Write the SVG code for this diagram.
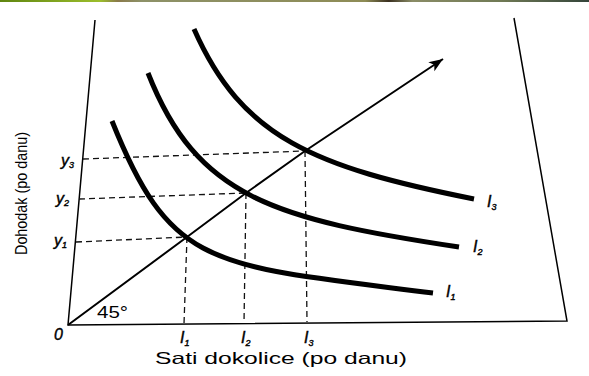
<svg xmlns="http://www.w3.org/2000/svg" width="589" height="376" viewBox="0 0 589 376">
<defs>
<linearGradient id="bar" x1="0" y1="0" x2="1" y2="0">
<stop offset="0" stop-color="#5f8510"/>
<stop offset="0.17" stop-color="#9cbe2c"/>
<stop offset="0.2" stop-color="#8a7a4a"/>
<stop offset="0.24" stop-color="#8d9168"/>
<stop offset="0.62" stop-color="#8e8c56"/>
<stop offset="0.66" stop-color="#3a3020"/>
<stop offset="0.7" stop-color="#8a8c66"/>
<stop offset="0.85" stop-color="#707a55"/>
<stop offset="1" stop-color="#34443a"/>
</linearGradient>
<marker id="arrow" viewBox="-15 -6 16 12" refX="0" refY="0" markerWidth="16" markerHeight="12" markerUnits="userSpaceOnUse" orient="auto">
<path d="M0,0 L-14,-5.5 L-10.5,0 L-14,5.5 Z" fill="#000"/>
</marker>
</defs>
<style>
.axis{fill:none;stroke:#000;stroke-width:1.5}
.dash{fill:none;stroke:#111;stroke-width:1.3;stroke-dasharray:6 4}
.curve{fill:none;stroke:#000;stroke-width:5}
.ray{fill:none;stroke:#000;stroke-width:2}
.lbl{font-family:"Liberation Sans",Arial,sans-serif;fill:#000}
.it{font-style:italic;stroke:#000;stroke-width:0.4}
.sub{font-size:9px}
</style>
<rect x="0" y="0" width="589" height="2" fill="url(#bar)"/>
<g id="axes">
<path class="axis" d="M95,20 L68,325 L567,321 L514,18"/>
</g>
<g id="connectors">
<path class="dash" d="M83,159 L305,151"/>
<path class="dash" d="M79,199 L246,193"/>
<path class="dash" d="M76,242 L187,237"/>
<path class="dash" d="M187,237 L184,324"/>
<path class="dash" d="M246,193 L244,323"/>
<path class="dash" d="M305,151 L307,322"/>
<path class="ray" d="M68,325 L187,237 L246,193 L305,151 L443,59" marker-end="url(#arrow)"/>
</g>
<g id="curve-I1">
<path class="curve" d="M112,121 C172,271 213,265 433,293"/>
<text class="lbl it" x="446" y="297" font-size="16">I<tspan class="sub" dy="3">1</tspan></text>
</g>
<g id="curve-I2">
<path class="curve" d="M148,73 C197,198 274,219 459,247"/>
<text class="lbl it" x="473" y="252" font-size="16">I<tspan class="sub" dy="3">2</tspan></text>
</g>
<g id="curve-I3">
<path class="curve" d="M194,29 C242,138 314,167 474,199"/>
<text class="lbl it" x="487" y="207" font-size="16">I<tspan class="sub" dy="3">3</tspan></text>
</g>
<g id="y-labels">
<text class="lbl it" x="61" y="166" font-size="16">y<tspan class="sub" dy="2">3</tspan></text>
<text class="lbl it" x="56" y="204" font-size="16">y<tspan class="sub" dy="2">2</tspan></text>
<text class="lbl it" x="54" y="246" font-size="16">y<tspan class="sub" dy="2">1</tspan></text>
</g>
<g id="x-labels">
<text class="lbl it" x="54" y="340" font-size="16">0</text>
<text class="lbl" x="97" y="318" font-size="16" textLength="31" lengthAdjust="spacingAndGlyphs">45°</text>
<text class="lbl it" x="180" y="343" font-size="16">I<tspan class="sub" dy="3">1</tspan></text>
<text class="lbl it" x="241" y="343" font-size="16">I<tspan class="sub" dy="3">2</tspan></text>
<text class="lbl it" x="304" y="343" font-size="16">I<tspan class="sub" dy="3">3</tspan></text>
</g>
<g id="axis-titles">
<text class="lbl" x="155" y="364" font-size="16.5" textLength="252" lengthAdjust="spacingAndGlyphs">Sati dokolice (po danu)</text>
<text class="lbl" transform="translate(27,255) rotate(-90)" x="0" y="0" font-size="17" textLength="123" lengthAdjust="spacingAndGlyphs">Dohodak (po danu)</text>
</g>
</svg>
